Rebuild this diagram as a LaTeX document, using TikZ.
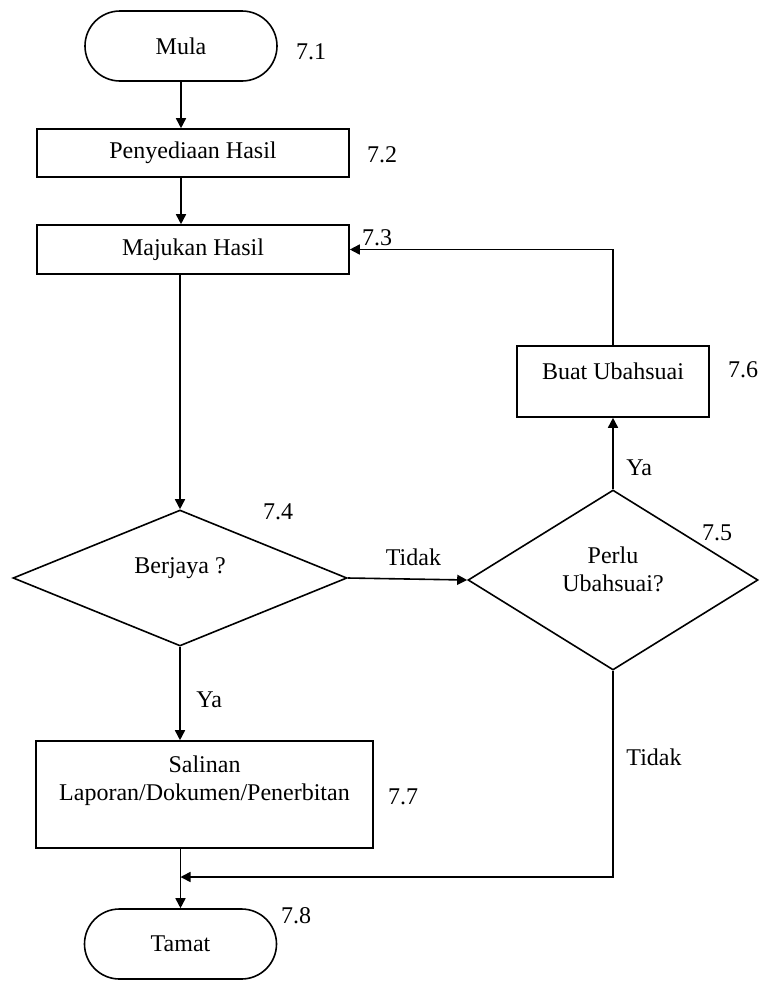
\documentclass[tikz,border=0pt]{standalone}
\usepackage{fontspec}
\setmainfont{Liberation Serif}
\usetikzlibrary{shapes.geometric,arrows.meta}
\begin{document}
\begin{tikzpicture}[x=0.5pt,y=-0.5pt,line width=0.8pt,>={Triangle[length=5pt,width=5pt]},
    every node/.style={font=\fontsize{12pt}{14pt}\selectfont},
    terminal/.style={draw,rectangle,rounded corners=17.5pt,minimum width=96pt,minimum height=35pt},
    process/.style={draw,rectangle,inner sep=0pt},
    decision/.style={draw,diamond,inner sep=0pt,align=center}]
        \useasboundingbox (0,0) rectangle (765,981);
        \node [terminal] (mula) at (181,46) {Mula};
        \node [process,minimum width=156pt,minimum height=24pt] (hasil) at (193,153) {Penyediaan Hasil};
        \node [process,minimum width=156pt,minimum height=24.5pt] (majukan) at (193,249.5) {Majukan Hasil};
        \node [decision,minimum width=167pt,minimum height=68pt,text depth=12pt] (berjaya) at (180,578) {Berjaya ?};
        \node [decision,minimum width=145pt,minimum height=90pt,text depth=10.5pt] (perlu) at (613,580) {Perlu\\Ubahsuai?};
        \node [process,minimum width=96pt,minimum height=35.5pt,text depth=10pt] (buat) at (613,381.5) {Buat Ubahsuai};
        \node [process,minimum width=168.5pt,minimum height=53.5pt,align=center,text depth=16pt] (salinan) at (204.5,794.5) {Salinan\\Laporan/Dokumen/Penerbitan};
        \node [terminal] (tamat) at (180.5,944) {Tamat};
        \coordinate (gabung) at (180.5,877);
        \node (n71) at (311,52) {7.1};
        \node (n72) at (382,155) {7.2};
        \node (n73) at (377,238) {7.3};
        \node (n74) at (278,512) {7.4};
        \node (n75) at (717,533) {7.5};
        \node (n76) at (743,370) {7.6};
        \node (n77) at (403,797) {7.7};
        \node (n78) at (296,916) {7.8};
        \draw [->] (mula) -- (mula |- hasil.north);
        \draw [->] (hasil.south -| mula) -- (mula |- majukan.north);
        \draw [->] (majukan.south -| berjaya) -- (berjaya.north);
        \draw [->] (berjaya.east) -- node (tidak1) [above=3pt,pos=0.55] {Tidak} (perlu.west);
        \draw [->] (perlu.north) -- node (ya1) [right=3pt,pos=0.3] {Ya} (buat.south);
        \draw [->] (buat.north) |- (majukan.east);
        \draw [->] (berjaya.south) -- node (ya2) [right=4.5pt,pos=0.57] {Ya} (berjaya |- salinan.north);
        \draw [->] (salinan.south -| tamat) -- (tamat.north);
        \draw [->] (perlu.south) |- node (tidak2) [right=3pt,pos=0.21] {Tidak} (gabung);
\end{tikzpicture}
\end{document}
